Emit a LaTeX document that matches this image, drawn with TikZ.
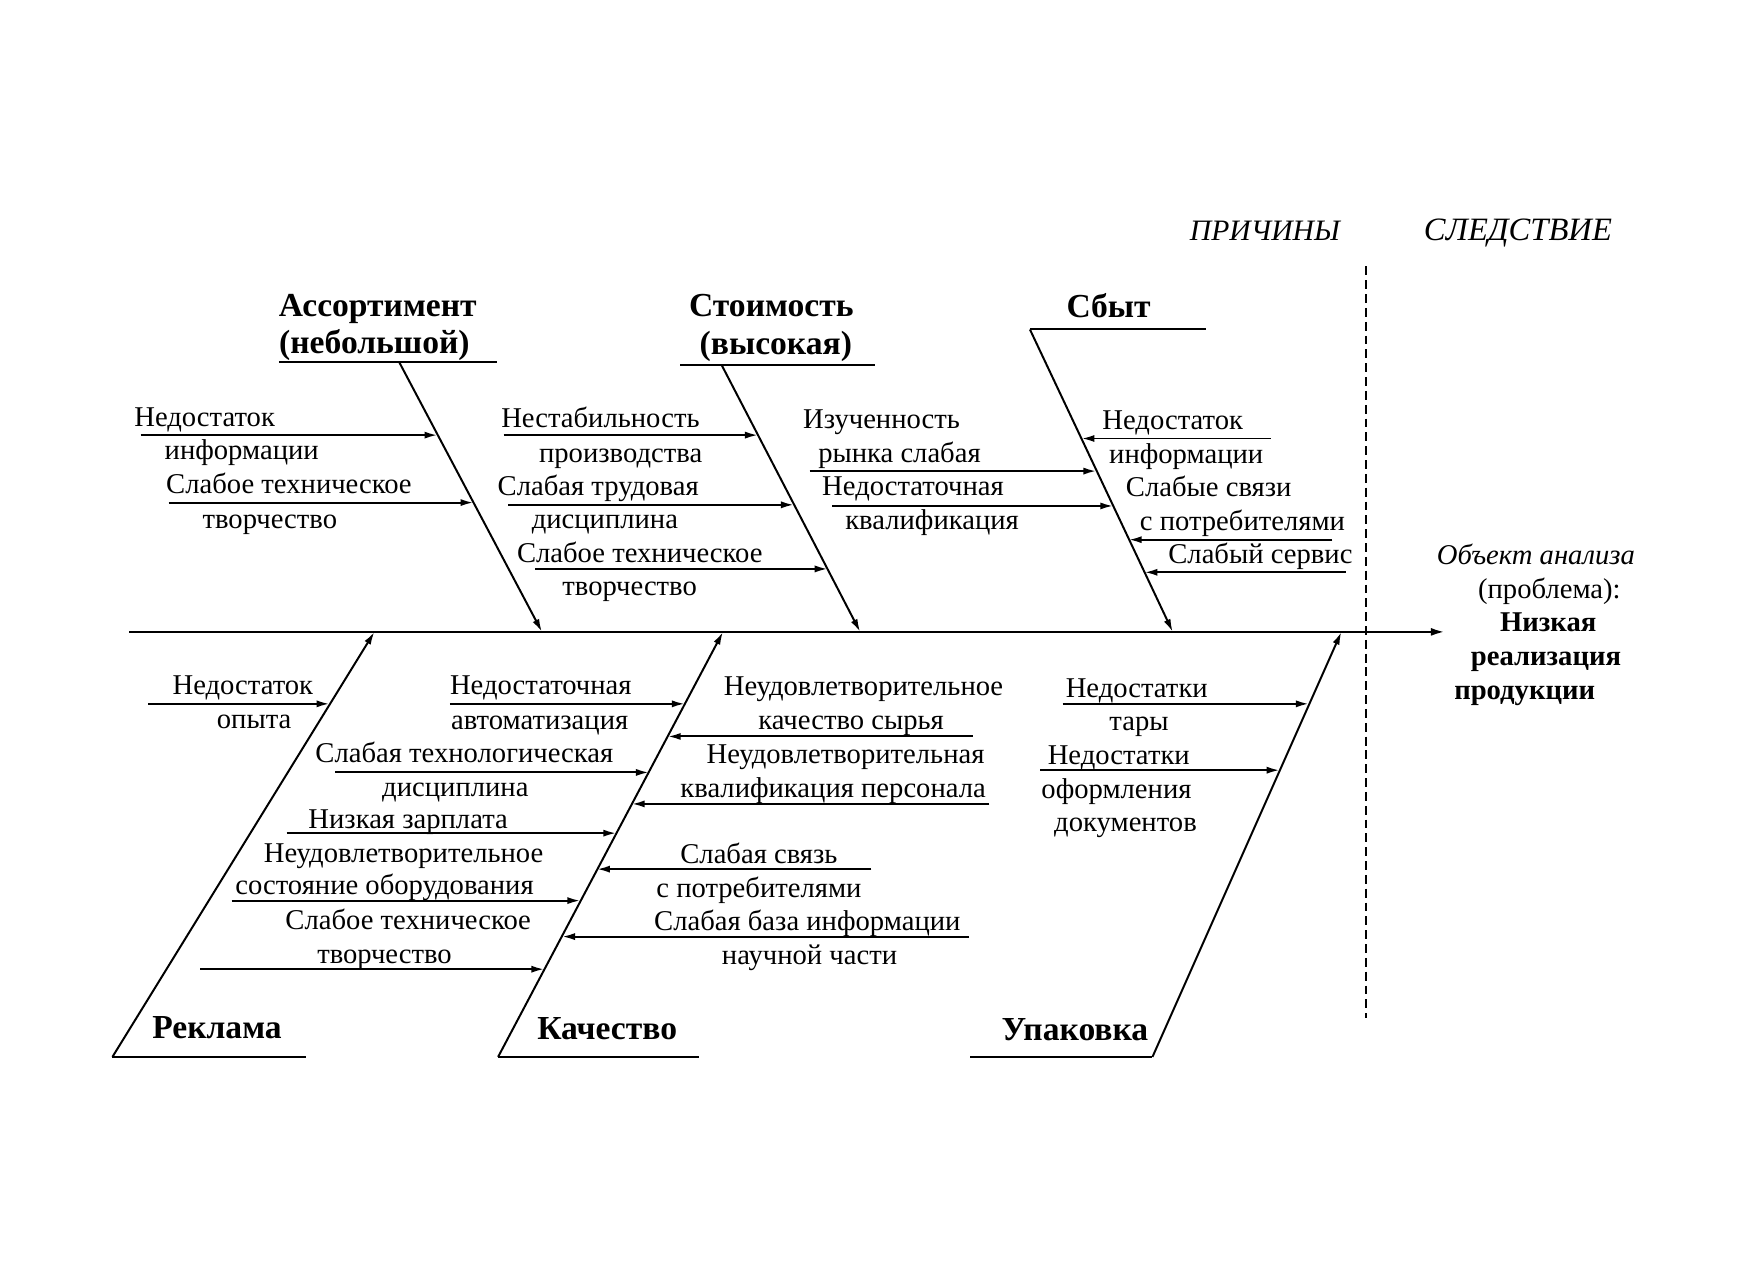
\documentclass[tikz,border=0pt]{standalone}
\usepackage{fontspec}
\setmainfont{Liberation Serif}
\usetikzlibrary{arrows.meta}

\tikzset{
  bone/.style={line width=1pt},
  cause/.style={line width=1pt, -{Latex[length=6.5pt,width=3.6pt]}},
  txt/.style={font=\fontsize{14.5}{17}\selectfont, inner sep=0pt, text height=10pt, text depth=3pt, yshift=-1.6pt},
  head/.style={font=\fontsize{17}{20}\selectfont\bfseries, inner sep=0pt, text height=12pt, text depth=3.5pt, yshift=-1.6pt},
  effect/.style={font=\fontsize{14.5}{17}\selectfont\bfseries, inner sep=0pt, text height=10pt, text depth=3pt, yshift=-1.6pt},
  side/.style={font=\fontsize{15}{18}\selectfont\itshape, inner sep=0pt, text height=10pt, text depth=3pt, yshift=-1.6pt},
}

\begin{document}
\begin{tikzpicture}[x=0.02cm, y=-0.02cm]
        \useasboundingbox (0,0) rectangle (1568,1141);

        % spine and separator
        \coordinate (s0) at (115,562);
        \coordinate (s1) at (1285,562);
        \draw[line width=1.2pt, -{Latex[length=7pt,width=4pt]}] (s0) -- (s1);
        \coordinate (d0) at (1215,237);
        \coordinate (d1) at (1215,905);
        \draw[line width=1pt, dash pattern=on 4.5pt off 2.5pt] (d0) -- (d1);

        \node[side] (causes) at (1125,205) {ПРИЧИНЫ};
        \node[side, font=\fontsize{16.5}{19}\selectfont\itshape] (effects) at (1350,205) {СЛЕДСТВИЕ};

        % Ассортимент
        \node[head] (as1) at (336,271) {Ассортимент};
        \node[head] (as2) at (333,304) {(небольшой)};
        \coordinate (asL) at (248,322); \coordinate (asR) at (442,322);
        \draw[bone] (asL) -- (asR);
        \coordinate (asT) at (355,322); \coordinate (asB) at (482,562);
        \draw[cause] (asT) -- (asB);
        \node[txt] (as1a) at (182,370) {Недостаток};
        \node[txt] (as1b) at (215,400) {информации};
        \node[txt] (as2a) at (257,430) {Слабое техническое};
        \node[txt] (as2b) at (240,461) {творчество};
        \coordinate (as1t) at (125,387); \coordinate (as1h) at (389,387);
        \coordinate (as2t) at (150,447); \coordinate (as2h) at (421,447);
        \draw[cause] (as1t) -- (as1h);
        \draw[cause] (as2t) -- (as2h);

        % Стоимость
        \node[head] (st1) at (686,271) {Стоимость};
        \node[head] (st2) at (690,305) {(высокая)};
        \coordinate (stL) at (605,325); \coordinate (stR) at (778,325);
        \draw[bone] (stL) -- (stR);
        \coordinate (stT) at (642,325); \coordinate (stB) at (765,562);
        \draw[cause] (stT) -- (stB);
        \node[txt] (st1a) at (534,371) {Нестабильность};
        \node[txt] (st1b) at (552,402) {производства};
        \node[txt] (st2a) at (532,432) {Слабая трудовая};
        \node[txt] (st2b) at (538,461) {дисциплина};
        \node[txt] (st3a) at (569,491) {Слабое техническое};
        \node[txt] (st3b) at (560,521) {творчество};
        \coordinate (st1t) at (448,387); \coordinate (st1h) at (674,387);
        \coordinate (st2t) at (452,449); \coordinate (st2h) at (706,449);
        \coordinate (st3t) at (476,506); \coordinate (st3h) at (736,506);
        \draw[cause] (st1t) -- (st1h);
        \draw[cause] (st2t) -- (st2h);
        \draw[cause] (st3t) -- (st3h);

        % Сбыт
        \node[head] (sb) at (986,272) {Сбыт};
        \coordinate (sbL) at (916,293); \coordinate (sbR) at (1073,293);
        \draw[bone] (sbL) -- (sbR);
        \coordinate (sbB) at (1043,562);
        \draw[cause] (sbL) -- (sbB);
        \node[txt] (sb1a) at (784,372) {Изученность};
        \node[txt] (sb1b) at (800,402) {рынка слабая};
        \node[txt] (sb2a) at (812,432) {Недостаточная};
        \node[txt] (sb2b) at (829,462) {квалификация};
        \node[txt] (sb3a) at (1043,373) {Недостаток};
        \node[txt] (sb3b) at (1055,403) {информации};
        \node[txt] (sb4a) at (1075,433) {Слабые связи};
        \node[txt] (sb4b) at (1105,463) {с потребителями};
        \node[txt] (sb5a) at (1121,492) {Слабый сервис};
        \coordinate (sb1t) at (720,419); \coordinate (sb1h) at (975,419);
        \coordinate (sb2t) at (740,450); \coordinate (sb2h) at (990,450);
        \coordinate (sb3t) at (1130,390); \coordinate (sb3h) at (962,390);
        \coordinate (sb4t) at (1185,480); \coordinate (sb4h) at (1004,480);
        \coordinate (sb5t) at (1197,509); \coordinate (sb5h) at (1018,509);
        \draw[cause] (sb1t) -- (sb1h);
        \draw[cause] (sb2t) -- (sb2h);
        \draw[cause] (sb3t) -- (sb3h);
        \draw[cause] (sb4t) -- (sb4h);
        \draw[cause] (sb5t) -- (sb5h);

        % Реклама
        \node[head] (rk) at (193,913) {Реклама};
        \coordinate (rkL) at (100,940); \coordinate (rkR) at (272,940);
        \draw[bone] (rkL) -- (rkR);
        \coordinate (rkT) at (333,562);
        \draw[cause] (rkL) -- (rkT);
        \node[txt] (rk1a) at (216,609) {Недостаток};
        \node[txt] (rk1b) at (226,639) {опыта};
        \coordinate (rk1t) at (132,626); \coordinate (rk1h) at (293,626);
        \draw[cause] (rk1t) -- (rk1h);

        % Качество
        \node[head] (kc) at (540,914) {Качество};
        \coordinate (kcL) at (443,940); \coordinate (kcR) at (622,940);
        \draw[bone] (kcL) -- (kcR);
        \coordinate (kcT) at (643,562);
        \draw[cause] (kcL) -- (kcT);
        \node[txt] (kc1a) at (481,609) {Недостаточная};
        \node[txt] (kc1b) at (480,640) {автоматизация};
        \node[txt] (kc2a) at (413,669) {Слабая технологическая};
        \node[txt] (kc2b) at (405,699) {дисциплина};
        \node[txt] (kc3a) at (363,728) {Низкая зарплата};
        \node[txt] (kc4a) at (359,758) {Неудовлетворительное};
        \node[txt] (kc4b) at (342,787) {состояние оборудования};
        \node[txt] (kc5a) at (363,818) {Слабое техническое};
        \node[txt] (kc5b) at (342,848) {творчество};
        \node[txt] (kc6a) at (768,610) {Неудовлетворительное};
        \node[txt] (kc6b) at (757,640) {качество сырья};
        \node[txt] (kc7a) at (752,670) {Неудовлетворительная};
        \node[txt] (kc7b) at (741,700) {квалификация персонала};
        \node[txt] (kc8a) at (675,759) {Слабая связь};
        \node[txt] (kc8b) at (675,789) {с потребителями};
        \node[txt] (kc9a) at (718,819) {Слабая база информации};
        \node[txt] (kc9b) at (720,849) {научной части};
        \coordinate (kc1t) at (400,626); \coordinate (kc1h) at (609,626);
        \coordinate (kc2t) at (298,687); \coordinate (kc2h) at (577,687);
        \coordinate (kc3t) at (255,741); \coordinate (kc3h) at (548,741);
        \coordinate (kc4t) at (206,801); \coordinate (kc4h) at (516,801);
        \coordinate (kc5t) at (178,862); \coordinate (kc5h) at (484,862);
        \coordinate (kc6t) at (865,655); \coordinate (kc6h) at (594,655);
        \coordinate (kc7t) at (880,715); \coordinate (kc7h) at (562,715);
        \coordinate (kc8t) at (775,773); \coordinate (kc8h) at (531,773);
        \coordinate (kc9t) at (862,833); \coordinate (kc9h) at (500,833);
        \draw[cause] (kc1t) -- (kc1h);
        \draw[cause] (kc2t) -- (kc2h);
        \draw[cause] (kc3t) -- (kc3h);
        \draw[cause] (kc4t) -- (kc4h);
        \draw[cause] (kc5t) -- (kc5h);
        \draw[cause] (kc6t) -- (kc6h);
        \draw[cause] (kc7t) -- (kc7h);
        \draw[cause] (kc8t) -- (kc8h);
        \draw[cause] (kc9t) -- (kc9h);

        % Упаковка
        \node[head] (up) at (956,915) {Упаковка};
        \coordinate (upL) at (863,940); \coordinate (upR) at (1025,940);
        \draw[bone] (upL) -- (upR);
        \coordinate (upT) at (1193,562);
        \draw[cause] (upR) -- (upT);
        \node[txt] (up1a) at (1011,611) {Недостатки};
        \node[txt] (up1b) at (1013,641) {тары};
        \node[txt] (up2a) at (995,671) {Недостатки};
        \node[txt] (up2b) at (993,701) {оформления};
        \node[txt] (up2c) at (1001,731) {документов};
        \coordinate (up1t) at (945,626); \coordinate (up1h) at (1164,626);
        \coordinate (up2t) at (925,685); \coordinate (up2h) at (1138,685);
        \draw[cause] (up1t) -- (up1h);
        \draw[cause] (up2t) -- (up2h);

        % объект анализа
        \node[txt, font=\fontsize{14.5}{17}\selectfont\itshape] (ob1) at (1366,493) {Объект анализа};
        \node[txt] (ob2) at (1378,523) {(проблема):};
        \node[effect] (ob3) at (1377,553) {Низкая};
        \node[effect] (ob4) at (1375,583) {реализация};
        \node[effect] (ob5) at (1356,613) {продукции};
\end{tikzpicture}
\end{document}
